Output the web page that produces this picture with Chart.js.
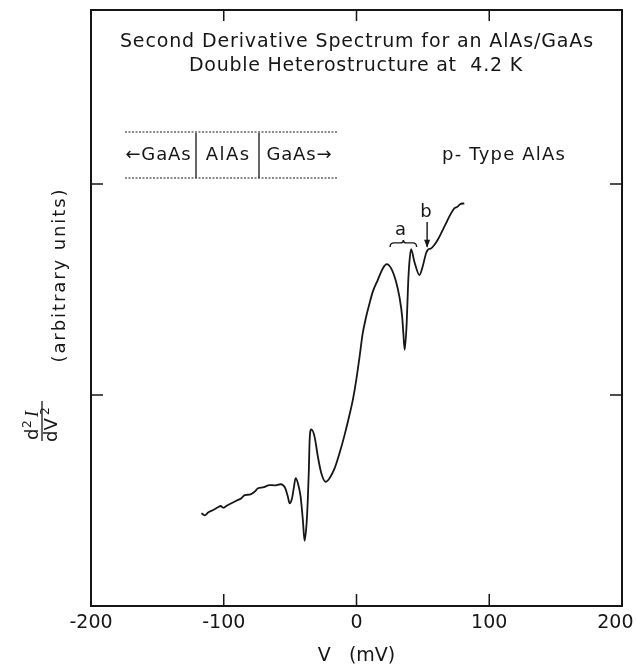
<!DOCTYPE html>
<html>
<head>
<meta charset="utf-8">
<script src="https://cdn.jsdelivr.net/npm/chart.js@4.4.1/dist/chart.umd.min.js"></script>
<style>
  html, body { margin: 0; padding: 0; background: #fff; }
  #graf { display: block; }
</style>
</head>
<body>
<canvas id="graf" width="636" height="668" style="width:636px;height:668px"></canvas>
<script>
// bias voltage (mV) and second derivative (arbitrary units)
const voltage = [-116.8, -114.3, -111.8, -108.0, -104.3, -102.3, -100.5, -98.0, -94.2, -90.5,
  -86.7, -84.2, -80.5, -76.7, -74.2, -70.5, -65.4, -61.7, -57.1, -55.4,
  -53.6, -51.7, -50.4, -48.6, -47.1, -45.9, -44.1, -42.1, -40.4, -39.1,
  -37.6, -36.6, -35.9, -35.3, -34.1, -31.6, -29.1, -26.5, -23.3, -20.3,
  -16.5, -12.8, -9.0, -5.3, -2.8, -0.2, 2.3, 4.7, 7.3, 9.8,
  12.3, 16.0, 19.8, 22.8, 26.1, 29.8, 32.3, 34.4, 35.3, 36.3,
  37.8, 38.9, 39.8, 41.1, 43.6, 47.4, 49.8, 52.4, 53.6, 56.2,
  58.6, 61.1, 63.7, 66.2, 68.6, 71.2, 73.7, 76.2, 78.0, 81.2];
const d2i = [0.440, 0.430, 0.443, 0.455, 0.468, 0.474, 0.466, 0.474, 0.487, 0.499,
  0.511, 0.526, 0.528, 0.542, 0.558, 0.562, 0.573, 0.572, 0.577, 0.573,
  0.558, 0.518, 0.487, 0.510, 0.565, 0.606, 0.581, 0.518, 0.407, 0.309,
  0.392, 0.518, 0.645, 0.787, 0.837, 0.803, 0.708, 0.629, 0.589, 0.606,
  0.652, 0.724, 0.810, 0.905, 0.976, 1.071, 1.181, 1.293, 1.372, 1.434,
  1.490, 1.545, 1.600, 1.620, 1.600, 1.537, 1.466, 1.372, 1.293, 1.214,
  1.340, 1.529, 1.625, 1.692, 1.632, 1.569, 1.608, 1.672, 1.687, 1.695,
  1.711, 1.735, 1.766, 1.798, 1.829, 1.861, 1.885, 1.893, 1.904, 1.909];

const xTicks = [-200, -100, 0, 100, 200];
const yTicks = [0, 1, 2];
const innerXTicks = [-100, 0, 100];
const innerYTicks = [1, 2];

// peak labels: "a" pair (brace) and "b" (arrow)
const braceV = [25.3, 45.3];
const braceY = 1.721;
const labelA = { v: 33.1, y: 1.782 };
const labelB = { v: 52.4, y: 1.867 };
const arrowB = { v: 53.2, yFrom: 1.820, yTo: 1.703 };

const titleLines = ['Second Derivative Spectrum for an AlAs/GaAs', 'Double Heterostructure at  4.2 K'];

const FONT = '"DejaVu Sans", sans-serif';
const INK = '#161616';

function fitText(ctx, text, cx, cy, width, size) {
  ctx.font = size + 'px ' + FONT;
  ctx.letterSpacing = '0px';
  const w = ctx.measureText(text).width;
  const ls = (width - w) / text.length;
  ctx.letterSpacing = ls + 'px';
  ctx.textAlign = 'center';
  ctx.textBaseline = 'middle';
  ctx.fillText(text, cx + ls / 2, cy);
  ctx.letterSpacing = '0px';
}

const decor = {
  id: 'decor',
  afterDraw(chart) {
    const { ctx, chartArea: a, scales: { x, y } } = chart;
    ctx.save();
    ctx.strokeStyle = INK;
    ctx.fillStyle = INK;

    // frame
    ctx.lineWidth = 2;
    ctx.strokeRect(a.left, a.top, a.right - a.left, a.bottom - a.top);

    // inward ticks on all four sides
    ctx.lineWidth = 1.5;
    ctx.beginPath();
    innerXTicks.forEach(v => {
      const px = x.getPixelForValue(v);
      ctx.moveTo(px, a.bottom); ctx.lineTo(px, a.bottom - 12);
      ctx.moveTo(px, a.top); ctx.lineTo(px, a.top + 11);
    });
    innerYTicks.forEach(v => {
      const py = y.getPixelForValue(v);
      ctx.moveTo(a.left, py); ctx.lineTo(a.left + 12, py);
      ctx.moveTo(a.right, py); ctx.lineTo(a.right - 12, py);
    });
    ctx.stroke();

    // title inside the frame
    const cx = (a.left + a.right) / 2;
    fitText(ctx, titleLines[0], cx, a.top + 32, 474, 19);
    fitText(ctx, titleLines[1], cx - 1, a.top + 56, 334, 19);

    // layer sketch
    ctx.lineWidth = 1;
    ctx.setLineDash([2, 1.5]);
    ctx.beginPath();
    ctx.moveTo(125, 132); ctx.lineTo(337, 132);
    ctx.moveTo(125, 178); ctx.lineTo(337, 178);
    ctx.stroke();
    ctx.setLineDash([]);
    ctx.lineWidth = 1.3;
    ctx.beginPath();
    ctx.moveTo(196, 133); ctx.lineTo(196, 178);
    ctx.moveTo(259, 133); ctx.lineTo(259, 178);
    ctx.stroke();
    fitText(ctx, '\u2190GaAs', 158, 155, 66, 18);
    fitText(ctx, 'AlAs', 227.5, 155, 45, 18);
    fitText(ctx, 'GaAs\u2192', 299, 155, 66, 18);
    fitText(ctx, 'p- Type AlAs', 503.5, 155, 124, 18);

    // brace over the "a" structure
    const bx0 = x.getPixelForValue(braceV[0]);
    const bx1 = x.getPixelForValue(braceV[1]);
    const by = y.getPixelForValue(braceY);
    const bm = (bx0 + bx1) / 2;
    ctx.lineWidth = 1.4;
    ctx.beginPath();
    ctx.moveTo(bx0, by + 4);
    ctx.quadraticCurveTo(bx0, by, bx0 + 4, by);
    ctx.lineTo(bm - 3, by);
    ctx.quadraticCurveTo(bm, by, bm, by - 3);
    ctx.quadraticCurveTo(bm, by, bm + 3, by);
    ctx.lineTo(bx1 - 4, by);
    ctx.quadraticCurveTo(bx1, by, bx1, by + 4);
    ctx.stroke();
    ctx.font = '18px ' + FONT;
    ctx.textAlign = 'center';
    ctx.textBaseline = 'middle';
    ctx.fillText('a', x.getPixelForValue(labelA.v), y.getPixelForValue(labelA.y));
    ctx.fillText('b', x.getPixelForValue(labelB.v), y.getPixelForValue(labelB.y));

    // arrow to "b"
    const ax = x.getPixelForValue(arrowB.v);
    const ay0 = y.getPixelForValue(arrowB.yFrom);
    const ay1 = y.getPixelForValue(arrowB.yTo);
    ctx.beginPath();
    ctx.moveTo(ax, ay0); ctx.lineTo(ax, ay1);
    ctx.stroke();
    ctx.beginPath();
    ctx.moveTo(ax, ay1 + 1); ctx.lineTo(ax - 3, ay1 - 7); ctx.lineTo(ax + 3, ay1 - 7);
    ctx.closePath();
    ctx.fill();

    // y axis label, rotated
    ctx.save();
    ctx.translate(60, 276);
    ctx.rotate(-Math.PI / 2);
    fitText(ctx, '(arbitrary units)', 0, 0, 175, 18);
    ctx.restore();

    ctx.save();
    ctx.translate(42, 421);
    ctx.rotate(-Math.PI / 2);
    ctx.lineWidth = 1.3;
    ctx.beginPath();
    ctx.moveTo(-20, 0); ctx.lineTo(20, 0);
    ctx.stroke();
    ctx.textAlign = 'left';
    ctx.textBaseline = 'alphabetic';
    // numerator d^2 I
    ctx.font = '18px ' + FONT;
    ctx.fillText('d', -19, -4);
    ctx.font = '12px ' + FONT;
    ctx.fillText('2', -7, -11);
    ctx.font = 'italic 18px "Liberation Serif", serif';
    ctx.fillText('I', 4, -4);
    // denominator dV^2
    ctx.font = '18px ' + FONT;
    ctx.fillText('dV', -21, 15);
    ctx.font = '12px ' + FONT;
    ctx.fillText('2', 6, 7);
    ctx.restore();

    ctx.restore();
  }
};

const ctx = document.getElementById('graf').getContext('2d');
new Chart(ctx, {
  type: 'line',
  data: {
    datasets: [{
      data: voltage.map((v, i) => ({ x: v, y: d2i[i] })),
      borderColor: INK,
      borderWidth: 1.8,
      pointRadius: 0,
      fill: false,
      cubicInterpolationMode: 'monotone'
    }]
  },
  options: {
    responsive: false,
    animation: false,
    layout: { padding: { left: 91, right: 14, top: 10, bottom: 0 } },
    plugins: { legend: { display: false }, tooltip: { enabled: false } },
    scales: {
      x: {
        type: 'linear',
        min: -200,
        max: 200,
        afterBuildTicks: s => { s.ticks = xTicks.map(v => ({ value: v })); },
        afterFit: s => { s.height = 62; s.paddingLeft = 0; s.paddingRight = 0; },
        grid: { display: false, drawTicks: false },
        border: { display: false },
        ticks: {
          color: INK,
          font: { family: FONT, size: 19 },
          padding: 6,
          maxRotation: 0,
          autoSkip: false,
          callback: v => v === 200 ? '200\u2002\u2009' : String(v)
        },
        title: {
          display: true,
          text: 'V   (mV)',
          color: INK,
          font: { family: FONT, size: 19 },
          padding: { top: 0, bottom: 1 }
        }
      },
      y: {
        type: 'linear',
        min: 0,
        max: 2.825,
        display: false,
        afterBuildTicks: s => { s.ticks = yTicks.map(v => ({ value: v })); }
      }
    }
  },
  plugins: [decor]
});
</script>
</body>
</html>
